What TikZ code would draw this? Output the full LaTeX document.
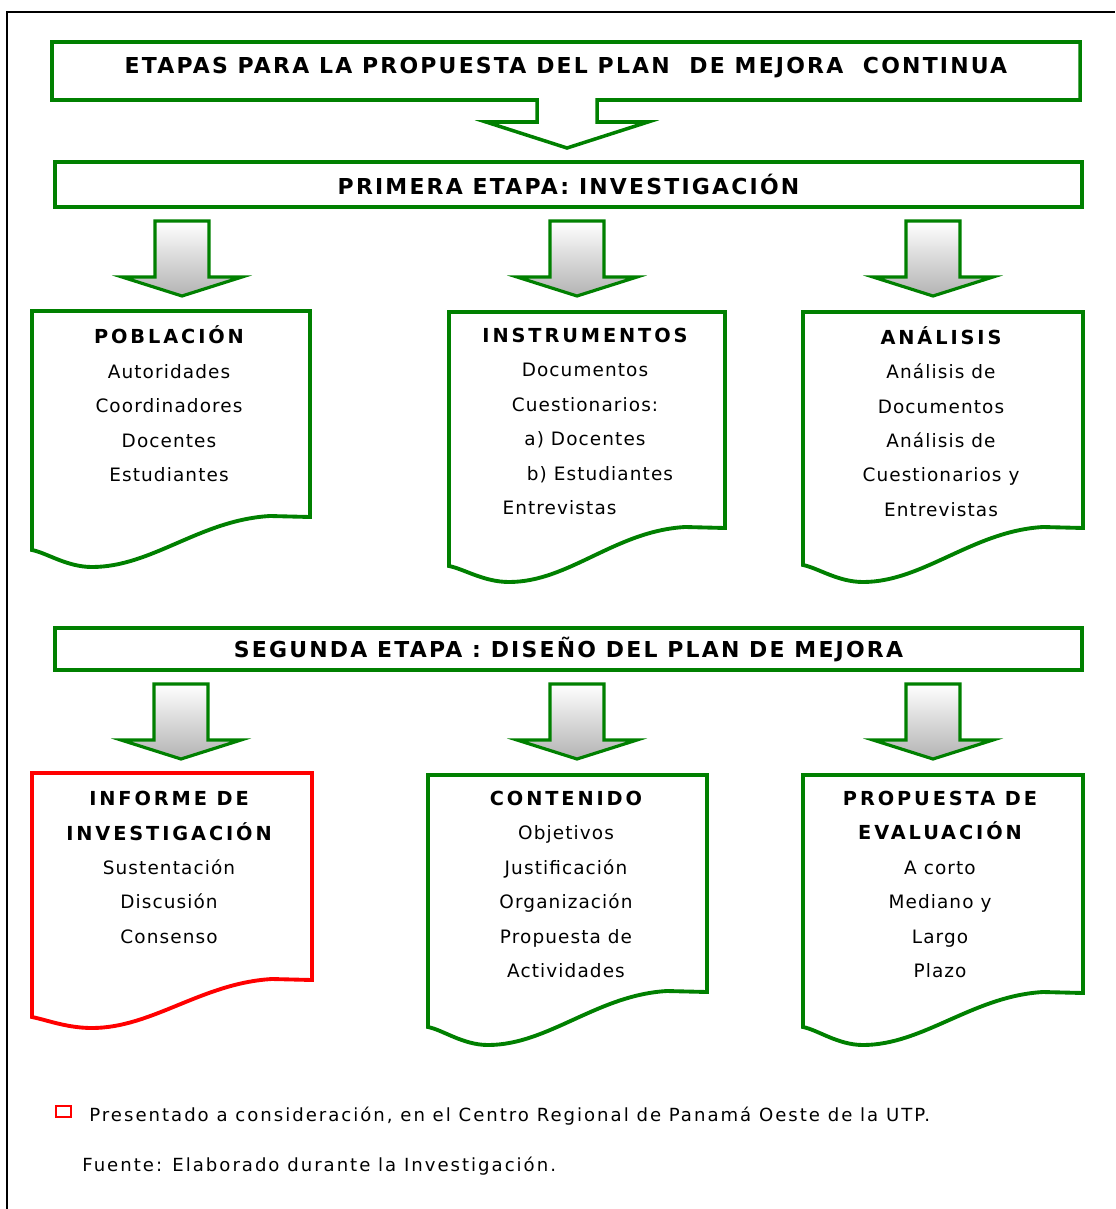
\documentclass[tikz,border=0pt]{standalone}
\usepackage{fontspec}
\setmainfont{DejaVu Sans}
\newfontfamily\cajafont{DejaVu Sans}[LetterSpace=6]
\newfontfamily\cabfont{DejaVu Sans}[LetterSpace=15]
\newfontfamily\titfont{DejaVu Sans}[LetterSpace=10]
\newfontfamily\notafont{DejaVu Sans}[LetterSpace=11]
\usetikzlibrary{positioning}
\definecolor{verde}{RGB}{0,128,0}
\definecolor{rojo}{RGB}{255,0,0}

% flecha de bloque: centro x, y superior
\newcommand{\flecha}[2]{%
  \draw[flecha] (#1-27,#2) -- (#1+27,#2) -- (#1+27,#2+56) -- (#1+60,#2+56)
    -- (#1,#2+75) -- (#1-60,#2+56) -- (#1-27,#2+56) -- cycle;}
% hoja con borde ondulado: color, izq, arriba, der, y der, y izq, y fondo
\newcommand{\hoja}[7]{%
  \draw[doc, draw=#1] (#2,#3) -- (#4,#3) -- (#4,#5) -- (#4-40,#5-1)
    .. controls (#4-110,#5+3) and (#2+120,#7) .. (#2+60,#7)
    .. controls (#2+35,#7) and (#2+15,#6+3) .. (#2,#6) -- cycle;}

\begin{document}
\begin{tikzpicture}[x=0.02cm, y=-0.02cm, font=\cajafont]
\tikzstyle{etapa}=[draw=verde, line width=2.2pt, fill=white, minimum width=20.54cm, inner sep=0pt]
\tikzstyle{flecha}=[draw=verde, line width=1.8pt, top color=white, bottom color=black!30]
\tikzstyle{doc}=[line width=2.2pt, fill=white]
\tikzstyle{texto}=[align=center, font=\cajafont\fontsize{10.5}{19.6}\selectfont]
\tikzstyle{titulo}=[font=\titfont\bfseries\fontsize{12.5}{14}\selectfont]
\tikzstyle{nota}=[anchor=west, inner sep=0pt, font=\notafont\fontsize{10.3}{12}\selectfont]
\newcommand{\cab}[1]{{\cabfont\bfseries\fontsize{11}{19.6}\selectfont #1}}

\useasboundingbox (0,0) rectangle (1115,1209);
\fill[white] (0,0) rectangle (1115,1209);
\draw[line width=1.7pt] (7,1209) -- (7,12) -- (1115,12);

% titulo con flecha
\draw[draw=verde, line width=2pt, fill=white] (52,42) -- (1080,42) -- (1080,100) -- (597,100) -- (597,122)
  -- (648,122) -- (567,148) -- (486,122) -- (537,122) -- (537,100) -- (52,100) -- cycle;
\node[titulo] (titulo) at (566,68) {ETAPAS PARA LA PROPUESTA DEL PLAN\ \ DE MEJORA\ \ CONTINUA};

% primera etapa
\node[etapa, minimum height=0.9cm, titulo] (etapa1) at (568.5,184.5) {PRIMERA ETAPA: INVESTIGACIÓN};
\flecha{182}{221}
\flecha{577}{221}
\flecha{933}{221}

\hoja{verde}{32}{311}{310}{517}{550}{567}
\hoja{verde}{449}{312}{725}{528}{566}{582}
\hoja{verde}{803}{312}{1083}{528}{565}{582}

\node[texto] (poblacion) at (169,404) {\cab{POBLACIÓN}\\Autoridades\\Coordinadores\\Docentes\\Estudiantes};
\node[texto] (instrumentos) at (585,421.5) {\cab{INSTRUMENTOS}\\Documentos\\Cuestionarios:\\a) Docentes\\\hspace*{17pt}b) Estudiantes\\Entrevistas\hspace*{29pt}};
\node[texto] (analisis) at (941,421.5) {\cab{ANÁLISIS}\\Análisis de\\Documentos\\Análisis de\\Cuestionarios y\\Entrevistas};

% segunda etapa
\node[etapa, minimum height=0.84cm, titulo] (etapa2) at (568.5,649) {SEGUNDA ETAPA : DISEÑO DEL PLAN DE MEJORA};
\flecha{181}{684}
\flecha{577}{684}
\flecha{933}{684}

\hoja{rojo}{32}{773}{312}{980}{1017}{1028}
\hoja{verde}{428}{775}{707}{992}{1027}{1045}
\hoja{verde}{803}{775}{1083}{993}{1027}{1045}

\node[texto] (informe) at (169,867.5) {\cab{INFORME DE}\\\cab{INVESTIGACIÓN}\\Sustentación\\Discusión\\Consenso};
\node[texto] (contenido) at (566,884.5) {\cab{CONTENIDO}\\Objetivos\\Justificación\\Organización\\Propuesta de\\Actividades};
\node[texto] (evaluacion) at (940,884.5) {\cab{PROPUESTA DE}\\\cab{EVALUACIÓN}\\A corto\\Mediano y\\Largo\\Plazo};

% notas
\draw[rojo, line width=1.2pt] (56,1106) rectangle (71,1117);
\node[nota] (nota) at (89,1116) {Presentado a consideración, en el Centro Regional de Panamá Oeste de la UTP.};
\node[nota] (fuente) at (82,1166) {Fuente: Elaborado durante la Investigación.};
\end{tikzpicture}
\end{document}
